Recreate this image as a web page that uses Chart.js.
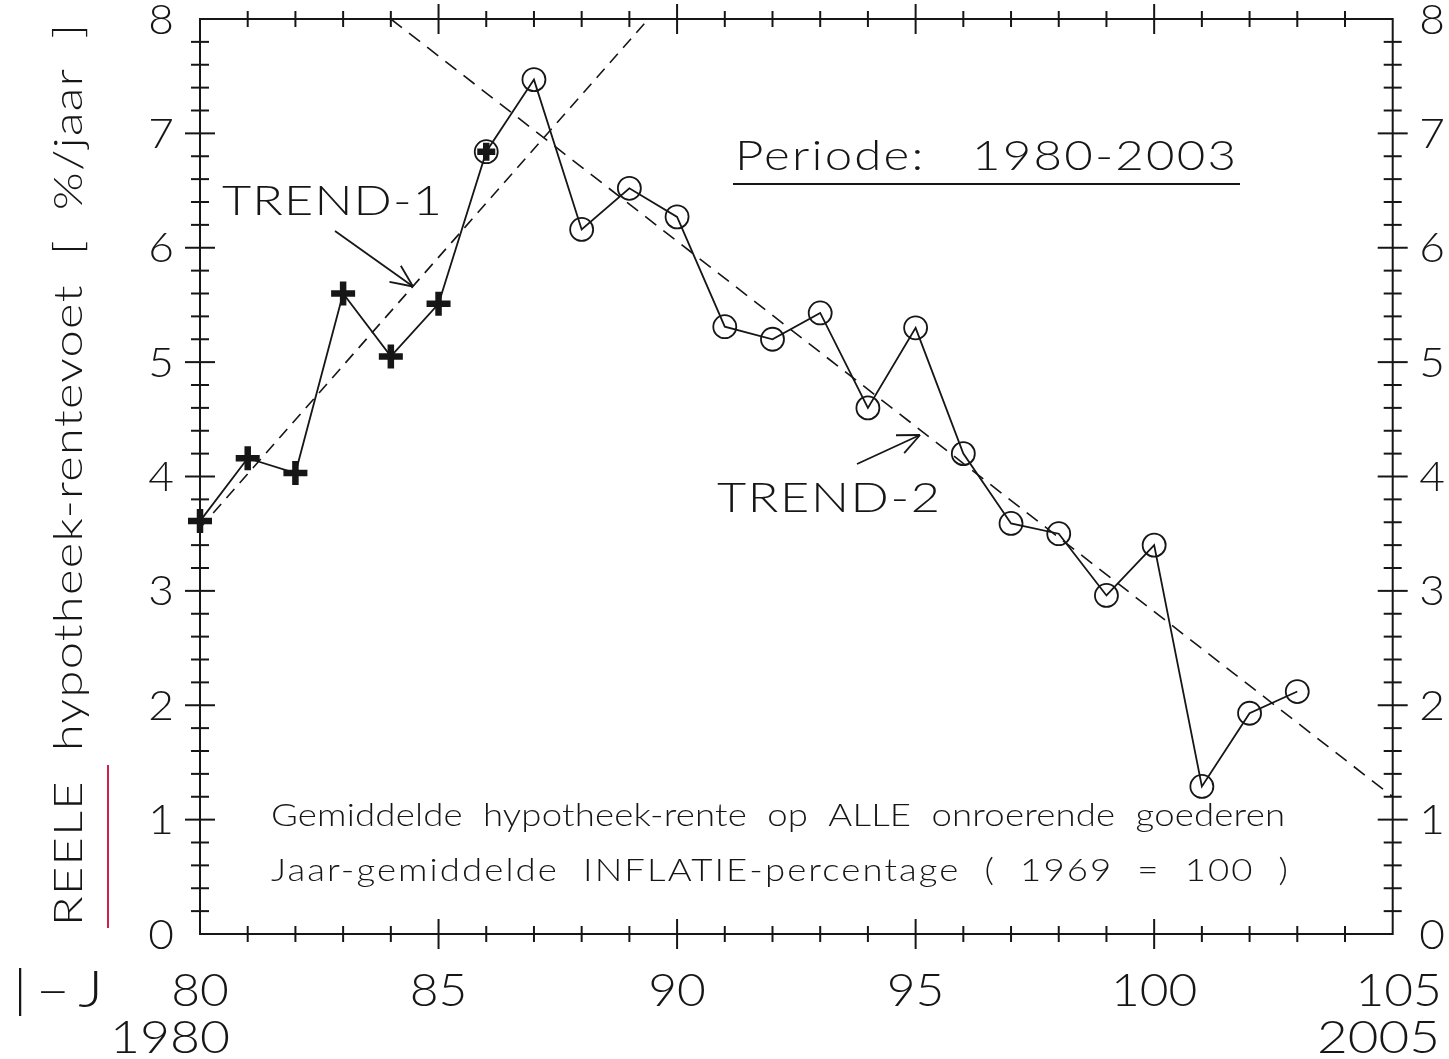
<!DOCTYPE html>
<html><head><meta charset="utf-8">
<script src="https://cdn.jsdelivr.net/npm/chart.js@4.4.1/dist/chart.umd.min.js"></script>
<style>html,body{margin:0;padding:0;background:#fff;overflow:hidden}#wrap{width:1449px;height:1059px}</style>
</head><body><div id="wrap"><canvas id="c" width="1449" height="1059"></canvas></div>
<script>
// ---- data ----
const years = [80,81,82,83,84,85,86,87,88,89,90,91,92,93,94,95,96,97,98,99,100,101,102,103];
const rente = [3.61,4.16,4.03,5.60,5.05,5.51,6.84,7.47,6.16,6.52,6.27,5.31,5.20,5.43,4.60,5.30,4.20,3.59,3.50,2.96,3.40,1.29,1.93,2.12];
const trend1X = [80, 89.4];
const trend1Y = [3.55, 8.0];
const trend2X = [84, 105];
const trend2Y = [8.0, 1.2];
const xTickLabels = ['80','85','90','95','100','105'];
const xTickValues = [80,85,90,95,100,105];
const yTickLabels = ['0','1','2','3','4','5','6','7','8'];
const crossCount = 7;   // 1980..1986 drawn with a bold plus
const circleFrom = 6;   // 1986..2003 drawn with a circle

const FAM = 'Lato, "DejaVu Sans", sans-serif';
const INK = '#161616';

const pts = years.map((x,i)=>({x, y: rente[i]}));
const t1 = trend1X.map((x,i)=>({x, y: trend1Y[i]}));
const t2 = trend2X.map((x,i)=>({x, y: trend2Y[i]}));

function txt(ctx, s, x, y, size, opt={}){
  const {width=null, align='left', sx=1, weight=300, spacing=false} = opt;
  ctx.save();
  ctx.font = `${weight} ${size}px ${FAM}`;
  ctx.fillStyle = INK;
  ctx.textBaseline = 'alphabetic';
  ctx.textAlign = 'left';
  let w = ctx.measureText(s).width;
  let scale = sx;
  if (width !== null){
    if (spacing && s.length > 1){
      const ls = Math.max(0, (width - w*sx) / (s.length - 1)) / sx;
      ctx.letterSpacing = ls + 'px';
      w = ctx.measureText(s).width - ls;
    }
    scale = width / w;
  }
  const tw = w * scale;
  let x0 = x;
  if (align === 'center') x0 = x - tw/2;
  else if (align === 'right') x0 = x - tw;
  ctx.translate(x0, y);
  ctx.scale(scale, 1);
  ctx.fillText(s, 0, 0);
  ctx.restore();
}
function seg(ctx,x1,y1,x2,y2){ctx.beginPath();ctx.moveTo(x1,y1);ctx.lineTo(x2,y2);ctx.stroke();}
function arrow(ctx, x1,y1,x2,y2){
  seg(ctx,x1,y1,x2,y2);
  const a = Math.atan2(y1-y2, x1-x2), L = 24, h = 0.42;
  seg(ctx,x2,y2,x2+L*Math.cos(a+h),y2+L*Math.sin(a+h));
  seg(ctx,x2,y2,x2+L*Math.cos(a-h),y2+L*Math.sin(a-h));
}

const framePlugin = {
  id: 'frame',
  beforeDatasetsDraw(chart){
    const ctx = chart.ctx, xs = chart.scales.x, ys = chart.scales.y;
    const {left,right,top,bottom} = chart.chartArea;
    ctx.save();
    ctx.strokeStyle = INK; ctx.lineWidth = 2; ctx.lineCap='butt';
    ctx.strokeRect(left, top, right-left, bottom-top);
    for (let v = xs.min + 1; v < xs.max; v++){
      const p = xs.getPixelForValue(v);
      const L = (v % 5 === 0) ? 15 : 8;
      seg(ctx,p,bottom-L,p,bottom+L);
      seg(ctx,p,top-L,p,top+L);
    }
    for (let i = 1; i < 40; i++){
      const p = ys.getPixelForValue(i/5);
      const L = (i % 5 === 0) ? 15 : 9;
      seg(ctx,left-L,p,left+L,p);
      seg(ctx,right-L,p,right+L,p);
    }
    ctx.restore();
  },
  afterDraw(chart){
    const ctx = chart.ctx, xs = chart.scales.x, ys = chart.scales.y;
    // y tick labels (both sides)
    yTickLabels.forEach((s,i)=>{
      const p = ys.getPixelForValue(i);
      txt(ctx, s, 161, p+14.5, 41, {align:'center', sx:1.08});
      txt(ctx, s, 1432, p+14.5, 41, {align:'center', sx:1.08});
    });
    // x tick labels
    xTickLabels.forEach((s,i)=>{
      const p = xs.getPixelForValue(xTickValues[i]);
      txt(ctx, s, p+ (i===5?6:0), 1006, 46, {align:'center', sx:1.08});
    });
    txt(ctx, '1980', 230, 1053, 45, {align:'right', width:120});
    txt(ctx, '2005', 1440, 1053, 45, {align:'right', width:123});
    txt(ctx, '|–J', 13, 1007, 52, {width:90, spacing:true, sx:1.15});
    // y title
    ctx.save();
    ctx.translate(82, 926); ctx.rotate(-Math.PI/2);
    txt(ctx, 'REELE  hypotheek-rentevoet  [  %/jaar  ]', 0, 0, 40, {width:902, spacing:true, sx:1.22});
    ctx.restore();
    // red marker line at the left
    ctx.save(); ctx.strokeStyle='#d0204a'; ctx.lineWidth=2;
    seg(ctx,108,765,108,928); ctx.restore();
    // annotations
    txt(ctx, 'Periode:   1980-2003', 735, 170, 41, {width:501, spacing:true, sx:1.2});
    ctx.save(); ctx.strokeStyle=INK; ctx.lineWidth=2; seg(ctx,733,184,1240,184); ctx.restore();
    txt(ctx, 'TREND-1', 222, 215, 42, {width:220, spacing:true, sx:1.2});
    txt(ctx, 'TREND-2', 717, 512, 42, {width:223, spacing:true, sx:1.2});
    ctx.save(); ctx.strokeStyle=INK; ctx.lineWidth=1.8;
    arrow(ctx,335,231,413,286.5);
    arrow(ctx,857,464,920,435);
    ctx.restore();
    txt(ctx, 'Gemiddelde  hypotheek-rente  op  ALLE  onroerende  goederen', 271, 826, 31, {width:1014, spacing:true, sx:1.18});
    txt(ctx, 'Jaar-gemiddelde  INFLATIE-percentage  (  1969  =  100  )', 271, 881, 31, {width:1017, spacing:true, sx:1.18});
  }
};

new Chart(document.getElementById('c'), {
  type: 'scatter',
  data: {
    datasets: [
      {data: pts, showLine: true, borderColor: INK, borderWidth: 1.8, pointRadius: 0, clip: false, order: 5},
      {data: t1, showLine: true, borderColor: INK, borderWidth: 1.6, borderDash: [12, 8], pointRadius: 0, order: 6},
      {data: t2, showLine: true, borderColor: INK, borderWidth: 1.6, borderDash: [14, 9], pointRadius: 0, order: 6},
      {data: pts.slice(circleFrom), showLine: false, pointStyle: 'circle', pointRadius: 11.5,
       pointBorderWidth: 1.8, pointBorderColor: INK, pointBackgroundColor: 'rgba(0,0,0,0)', clip: false, order: 2},
      {data: pts.slice(0, crossCount), showLine: false, pointStyle: 'cross',
       pointRadius: pts.slice(0, crossCount).map((p,i)=> i === crossCount-1 ? 9 : 12),
       pointBorderWidth: 6.5, pointBorderColor: INK, clip: false, order: 1}
    ]
  },
  options: {
    responsive: false, animation: false, devicePixelRatio: 1,
    layout: {padding: {left: 200, right: 56.3, top: 19, bottom: 125}},
    plugins: {legend: {display: false}, tooltip: {enabled: false}},
    events: [],
    scales: {
      x: {type: 'linear', display: false, min: 80, max: 105},
      y: {type: 'linear', display: false, min: 0, max: 8}
    }
  },
  plugins: [framePlugin]
});
</script></body></html>
